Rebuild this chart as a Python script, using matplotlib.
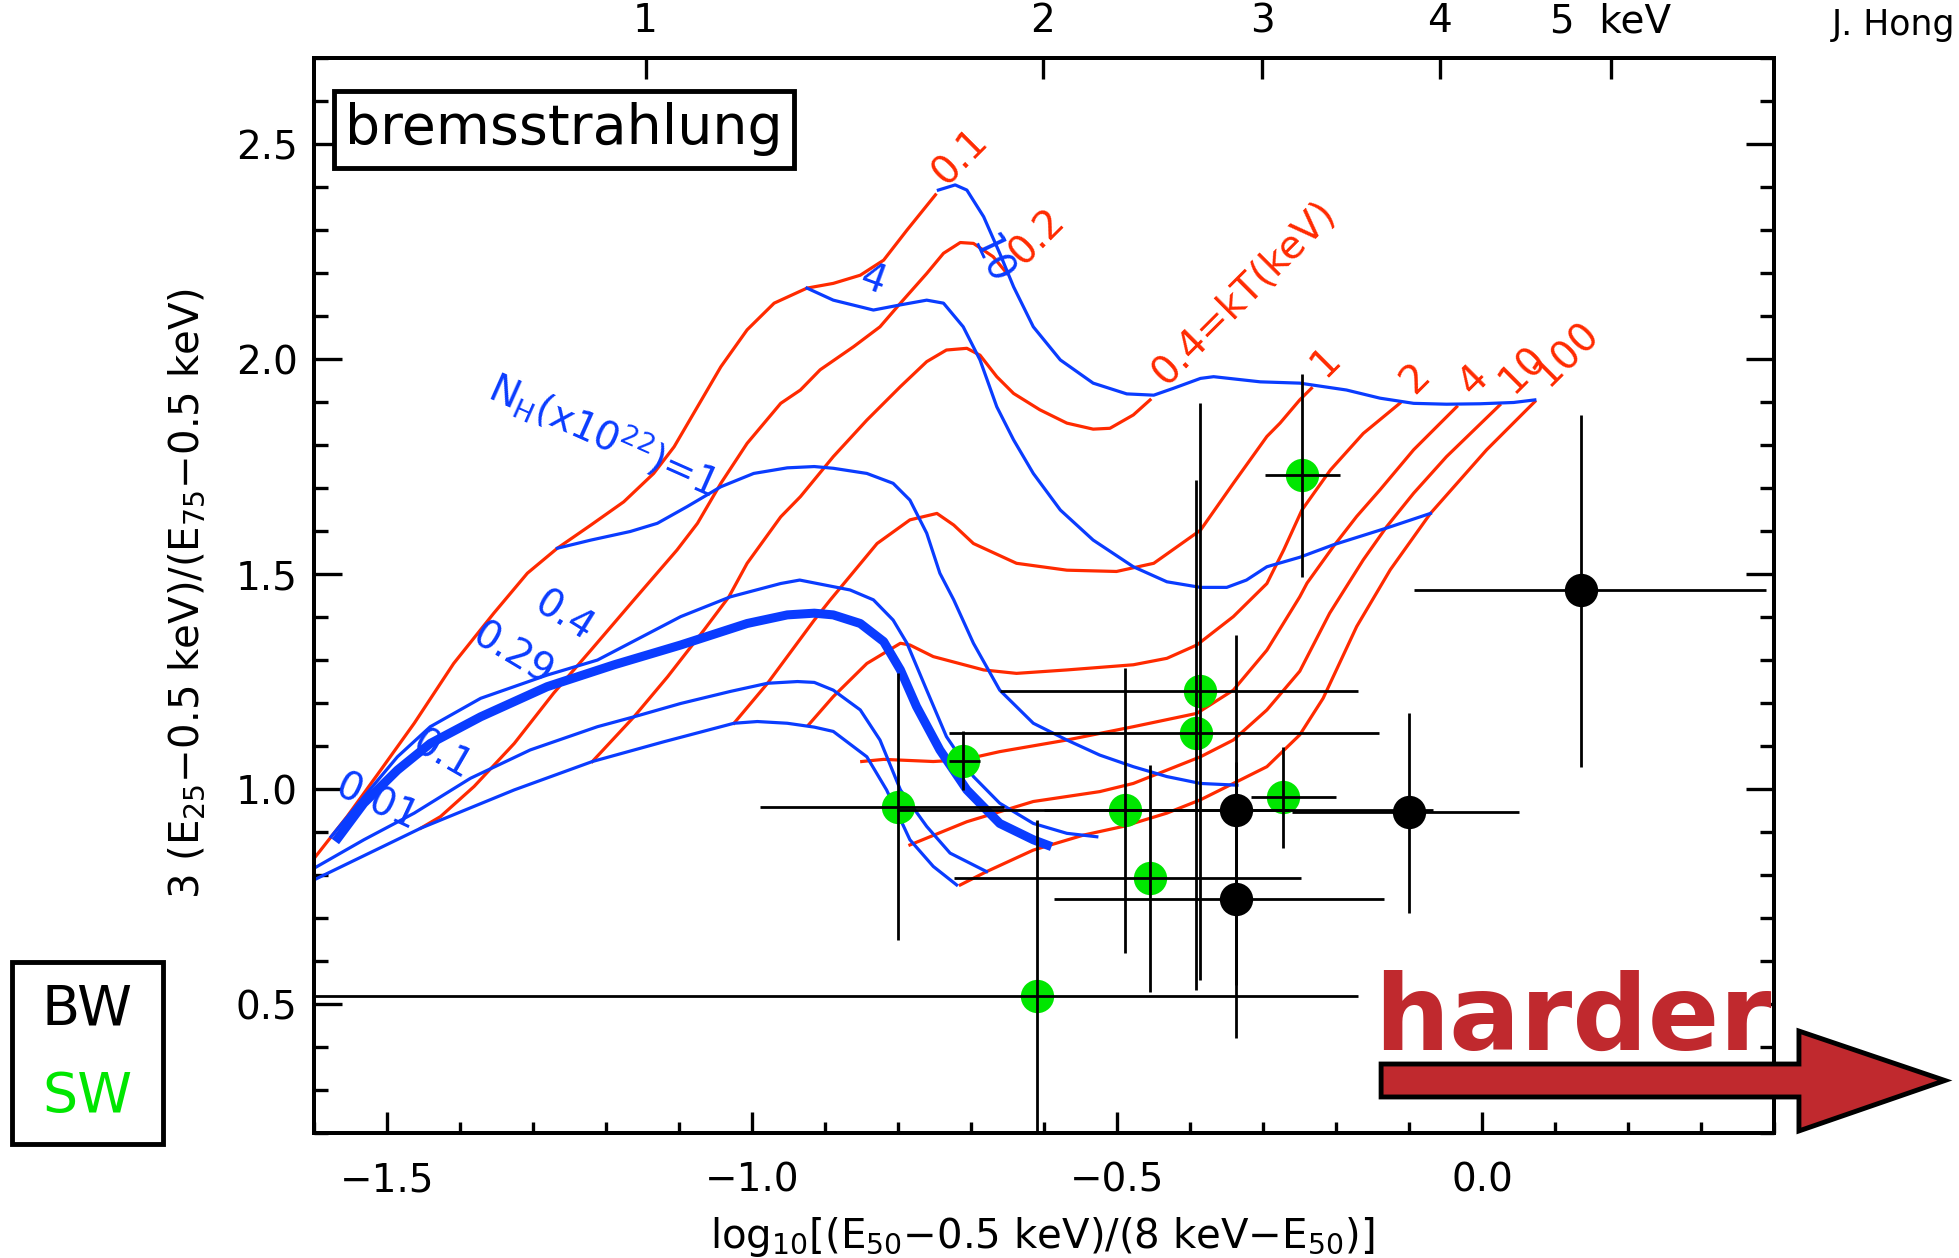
import numpy as np
import matplotlib.pyplot as plt
from matplotlib.patches import Polygon, Rectangle
from matplotlib.ticker import MultipleLocator, FuncFormatter, NullLocator

plt.rcParams['font.family'] = ['DejaVu Sans']
plt.rcParams['mathtext.default'] = 'regular'

RED = '#ff2a00'
BLUE = '#0a3cff'
GREEN = '#00e600'
DARKRED = '#c0292e'

# constant kT tracks (red)
kt01_x = [-1.600, -1.555, -1.509, -1.463, -1.409, -1.354, -1.308, -1.267, -1.221, -1.176, -1.135,
          -1.107, -1.075, -1.043, -1.007, -0.970, -0.925, -0.889, -0.852, -0.820, -0.788, -0.749]
kt01_y = [0.840, 0.937, 1.045, 1.154, 1.293, 1.410, 1.503, 1.561, 1.615, 1.669, 1.735,
          1.797, 1.890, 1.983, 2.069, 2.131, 2.166, 2.177, 2.196, 2.231, 2.301, 2.383]
kt02_x = [-1.454, -1.427, -1.381, -1.326, -1.272, -1.221, -1.162, -1.103, -1.075, -1.043, -1.007,
          -0.961, -0.934, -0.907, -0.861, -0.825, -0.797, -0.761, -0.738, -0.715, -0.697, -0.670, -0.651]
kt02_y = [0.910, 0.937, 1.007, 1.107, 1.224, 1.324, 1.441, 1.557, 1.619, 1.712, 1.805,
          1.898, 1.929, 1.976, 2.030, 2.076, 2.131, 2.200, 2.247, 2.272, 2.270, 2.239, 2.200]
kt04_x = [-1.219, -1.162, -1.116, -1.066, -1.032, -1.007, -0.961, -0.934, -0.889, -0.843, -0.797, -0.761,
          -0.734, -0.706, -0.688, -0.665, -0.642, -0.606, -0.569, -0.533, -0.510, -0.478, -0.455]
kt04_y = [1.065, 1.169, 1.262, 1.371, 1.448, 1.526, 1.634, 1.681, 1.774, 1.859, 1.937, 1.995,
          2.022, 2.026, 2.010, 1.960, 1.921, 1.883, 1.852, 1.838, 1.840, 1.871, 1.906]
kt1_x = [-1.025, -0.979, -0.915, -0.893, -0.829, -0.784, -0.747, -0.724, -0.697, -0.638, -0.569,
         -0.501, -0.450, -0.386, -0.341, -0.295, -0.277, -0.250, -0.234]
kt1_y = [1.154, 1.247, 1.394, 1.441, 1.572, 1.627, 1.642, 1.615, 1.572, 1.526, 1.510,
         1.507, 1.526, 1.603, 1.712, 1.821, 1.852, 1.906, 1.933]
kt2_x = [-0.923, -0.889, -0.843, -0.797, -0.784, -0.752, -0.683, -0.638, -0.569, -0.478, -0.432,
         -0.391, -0.341, -0.295, -0.272, -0.247, -0.208, -0.163, -0.113]
kt2_y = [1.150, 1.216, 1.293, 1.340, 1.336, 1.309, 1.278, 1.270, 1.278, 1.290, 1.305,
         1.336, 1.402, 1.479, 1.557, 1.650, 1.743, 1.828, 1.898]
kt4_x = [-0.850, -0.820, -0.752, -0.711, -0.661, -0.569, -0.478, -0.391, -0.341, -0.295, -0.250,
         -0.240, -0.204, -0.172, -0.140, -0.094, -0.035]
kt4_y = [1.065, 1.070, 1.065, 1.069, 1.088, 1.115, 1.146, 1.177, 1.231, 1.324, 1.448,
         1.480, 1.565, 1.635, 1.697, 1.790, 1.890]
kt10_x = [-0.784, -0.706, -0.615, -0.524, -0.478, -0.432, -0.386, -0.341, -0.295, -0.250,
          -0.209, -0.163, -0.131, -0.094, -0.049, 0.024]
kt10_y = [0.871, 0.925, 0.972, 0.995, 1.014, 1.045, 1.076, 1.115, 1.185, 1.275,
          1.410, 1.534, 1.611, 1.689, 1.774, 1.894]
kt100_x = [-0.715, -0.679, -0.615, -0.546, -0.492, -0.432, -0.386, -0.341, -0.295, -0.250,
           -0.218, -0.172, -0.126, -0.071, 0.006, 0.072]
kt100_y = [0.778, 0.809, 0.859, 0.894, 0.914, 0.945, 0.976, 1.014, 1.053, 1.127,
           1.212, 1.379, 1.511, 1.642, 1.790, 1.902]

# constant NH tracks (blue)
nh001_x = [-1.600, -1.454, -1.326, -1.219, -1.121, -1.025, -0.993, -0.952, -0.915, -0.889,
           -0.843, -0.816, -0.784, -0.752, -0.720]
nh001_y = [0.790, 0.910, 0.999, 1.065, 1.111, 1.154, 1.158, 1.154, 1.145, 1.135,
           1.076, 0.999, 0.883, 0.821, 0.778]
nh01_x = [-1.600, -1.532, -1.463, -1.386, -1.304, -1.212, -1.162, -1.098, -1.030, -0.979,
          -0.938, -0.915, -0.889, -0.852, -0.825, -0.797, -0.761, -0.729, -0.679]
nh01_y = [0.817, 0.883, 0.945, 1.026, 1.092, 1.146, 1.169, 1.200, 1.228, 1.247,
          1.251, 1.249, 1.231, 1.185, 1.115, 0.999, 0.914, 0.852, 0.809]
nh029_x = [-1.571, -1.532, -1.486, -1.441, -1.372, -1.281, -1.189, -1.098, -1.007, -0.952, -0.915,
           -0.889, -0.852, -0.820, -0.797, -0.775, -0.743, -0.706, -0.661, -0.615, -0.590]
nh029_y = [0.879, 0.968, 1.045, 1.107, 1.169, 1.239, 1.290, 1.336, 1.386, 1.406, 1.410,
           1.406, 1.386, 1.344, 1.278, 1.193, 1.092, 0.999, 0.921, 0.883, 0.867]
nh04_x = [-1.577, -1.532, -1.486, -1.441, -1.372, -1.281, -1.212, -1.098, -1.030, -0.961, -0.935,
          -0.866, -0.834, -0.807, -0.788, -0.761, -0.734, -0.697, -0.661, -0.615, -0.569, -0.528]
nh04_y = [0.890, 0.983, 1.076, 1.146, 1.212, 1.266, 1.301, 1.402, 1.448, 1.479, 1.487,
          1.464, 1.441, 1.394, 1.340, 1.231, 1.123, 1.030, 0.968, 0.921, 0.898, 0.890]
nh1_x = [-1.267, -1.221, -1.167, -1.130, -1.089, -1.043, -0.998, -0.952, -0.915, -0.889, -0.843,
         -0.807, -0.784, -0.761, -0.743, -0.724, -0.697, -0.661, -0.615, -0.569, -0.524, -0.478,
         -0.432, -0.386, -0.336]
nh1_y = [1.561, 1.580, 1.600, 1.619, 1.658, 1.704, 1.735, 1.748, 1.751, 1.747, 1.735,
         1.712, 1.673, 1.596, 1.503, 1.441, 1.340, 1.231, 1.154, 1.115, 1.080, 1.053,
         1.030, 1.014, 1.010]
nh4_x = [-0.925, -0.889, -0.834, -0.797, -0.761, -0.738, -0.711, -0.688, -0.665, -0.642, -0.615,
         -0.578, -0.533, -0.478, -0.432, -0.386, -0.350, -0.323, -0.295, -0.250, -0.204, -0.131, -0.071]
nh4_y = [2.166, 2.138, 2.115, 2.127, 2.138, 2.131, 2.076, 1.999, 1.890, 1.813, 1.735,
         1.650, 1.580, 1.518, 1.483, 1.470, 1.470, 1.487, 1.518, 1.540, 1.569, 1.608, 1.642]
nh10_x = [-0.745, -0.722, -0.706, -0.683, -0.661, -0.642, -0.615, -0.578, -0.533, -0.487, -0.450,
          -0.423, -0.386, -0.368, -0.304, -0.250, -0.186, -0.140, -0.094, -0.049, -0.003, 0.043, 0.072]
nh10_y = [2.394, 2.406, 2.394, 2.332, 2.247, 2.169, 2.076, 1.999, 1.945, 1.920, 1.917,
          1.933, 1.956, 1.960, 1.948, 1.945, 1.929, 1.910, 1.898, 1.896, 1.897, 1.900, 1.906]

# sources: SW (green) and BW (black) with error bar ends
sw_x = [-0.247, -0.387, -0.392, -0.711, -0.800, -0.489, -0.273, -0.455, -0.610]
sw_y = [1.731, 1.228, 1.131, 1.067, 0.960, 0.952, 0.982, 0.794, 0.520]
sw_xlo = [-0.298, -0.661, -0.731, -0.731, -0.989, -0.802, -0.317, -0.724, -1.650]
sw_xhi = [-0.195, -0.170, -0.141, -0.688, -0.655, -0.265, -0.201, -0.248, -0.170]
sw_ylo = [1.495, 0.557, 0.534, 0.999, 0.650, 0.619, 0.864, 0.528, 0.100]
sw_yhi = [1.967, 1.898, 1.720, 1.135, 1.270, 1.282, 1.098, 1.058, 0.929]

bw_x = [0.135, -0.338, -0.101, -0.338]
bw_y = [1.465, 0.953, 0.948, 0.745]
bw_xlo = [-0.094, -0.600, -0.261, -0.587]
bw_xhi = [0.389, -0.067, 0.051, -0.134]
bw_ylo = [1.053, 0.546, 0.712, 0.423]
bw_yhi = [1.872, 1.360, 1.179, 1.065]

top_energy = [1, 2, 3, 4, 5]
top_labels = ['1', '2', '3', '4', '5  keV']

red_tracks = [(kt01_x, kt01_y), (kt02_x, kt02_y), (kt04_x, kt04_y), (kt1_x, kt1_y),
              (kt2_x, kt2_y), (kt4_x, kt4_y), (kt10_x, kt10_y), (kt100_x, kt100_y)]
blue_tracks = [(nh001_x, nh001_y), (nh01_x, nh01_y), (nh04_x, nh04_y),
               (nh1_x, nh1_y), (nh4_x, nh4_y), (nh10_x, nh10_y)]

# curve labels: text, x, y, rotation
red_notes = [('0.1', -0.715, 2.472, 45), ('0.2', -0.610, 2.286, 45),
             ('0.4=kT(keV)', -0.327, 2.154, 45), ('1', -0.215, 1.995, 45),
             ('2', -0.092, 1.956, 45), ('4', -0.012, 1.952, 45),
             ('10', 0.056, 1.976, 45), ('100', 0.116, 2.014, 45)]
blue_notes = [('10', -0.674, 2.231, -65), ('4', -0.836, 2.185, -20),
              ('N$_H$(x10$^{22}$)=1', -1.203, 1.828, -24), ('0.4', -1.258, 1.402, -32),
              ('0.29', -1.328, 1.313, -31), ('0.1', -1.425, 1.080, -30),
              ('0.01', -1.514, 0.968, -25)]

fig = plt.figure(figsize=(19.59, 12.58), dpi=100)
ax = fig.add_axes([0.1604, 0.0990, 0.7453, 0.8545])

for x, y in red_tracks:
    ax.plot(x, y, color=RED, lw=2.3, zorder=2, solid_joinstyle='round')
for x, y in blue_tracks:
    ax.plot(x, y, color=BLUE, lw=2.3, zorder=2, solid_joinstyle='round')
ax.plot(nh029_x, nh029_y, color=BLUE, lw=6.5, zorder=2, solid_capstyle='butt')

for t, x, y, r in red_notes:
    ax.text(x, y, t, color=RED, fontsize=28, rotation=r, ha='center', va='center', zorder=3)
for t, x, y, r in blue_notes:
    ax.text(x, y, t, color=BLUE, fontsize=28, rotation=r, ha='center', va='center', zorder=3)

# data points, bars drawn over the dots
for xs, ys, xlo, xhi, ylo, yhi, c in [(sw_x, sw_y, sw_xlo, sw_xhi, sw_ylo, sw_yhi, GREEN),
                                      (bw_x, bw_y, bw_xlo, bw_xhi, bw_ylo, bw_yhi, 'black')]:
    xs, ys = np.array(xs), np.array(ys)
    ax.plot(xs, ys, 'o', color=c, ms=24, mec='none', zorder=4)
    ax.errorbar(xs, ys, xerr=[xs - np.array(xlo), np.array(xhi) - xs],
                yerr=[ys - np.array(ylo), np.array(yhi) - ys],
                fmt='none', ecolor='black', elinewidth=2.0, capsize=0, zorder=5)

ax.text(-1.258, 2.535, 'bremsstrahlung', fontsize=40, ha='center', va='center', zorder=6,
        bbox=dict(boxstyle='square,pad=0.2', fc='white', ec='black', lw=3.5))

ax.set_xlim(-1.6, 0.4)
ax.set_ylim(0.2, 2.7)
fmt = FuncFormatter(lambda v, p: f'{v:.1f}'.replace('-', '\u2212'))
ax.xaxis.set_major_locator(MultipleLocator(0.5))
ax.xaxis.set_minor_locator(MultipleLocator(0.1))
ax.yaxis.set_major_locator(MultipleLocator(0.5))
ax.yaxis.set_minor_locator(MultipleLocator(0.1))
ax.xaxis.set_major_formatter(fmt)
ax.yaxis.set_major_formatter(fmt)
ax.tick_params(axis='x', which='major', direction='in', length=15, width=2.4,
               top=False, labelsize=28, pad=20)
ax.tick_params(axis='x', which='minor', direction='in', length=8, width=2.4, top=False)
ax.tick_params(axis='y', which='major', direction='in', length=20, width=2.4,
               left=True, right=True, labelsize=28, pad=12)
ax.tick_params(axis='y', which='minor', direction='in', length=10, width=2.4,
               left=True, right=True)
for s in ax.spines.values():
    s.set_linewidth(2.8)

# energy scale on top
ax2 = ax.twiny()
ax2.set_xlim(ax.get_xlim())
e = np.array(top_energy, dtype=float)
ax2.set_xticks(np.log10((e - 0.5) / (8 - e)))
ax2.set_xticklabels(top_labels)
ax2.xaxis.set_minor_locator(NullLocator())
ax2.tick_params(axis='x', which='major', direction='in', length=15, width=2.4,
                labelsize=28, pad=13)
for s in ax2.spines.values():
    s.set_linewidth(2.8)

fig.text(0.532, 0.017, 'log$_{10}$[(E$_{50}$\u22120.5 keV)/(8 keV\u2212E$_{50}$)]',
         fontsize=29, ha='center', va='center')
fig.text(0.0955, 0.5286, '3 (E$_{25}$\u22120.5 keV)/(E$_{75}$\u22120.5 keV)',
         fontsize=29, ha='center', va='center', rotation=90)
fig.text(0.998, 0.980, 'J. Hong', fontsize=25, ha='right', va='center')

# BW / SW key
fig.add_artist(Rectangle((0.006, 0.091), 0.077, 0.144, transform=fig.transFigure,
                         fill=False, ec='black', lw=3.5))
fig.text(0.0446, 0.1975, 'BW', fontsize=40, color='black', ha='center', va='center')
fig.text(0.0446, 0.128, 'SW', fontsize=40, color=GREEN, ha='center', va='center')

# "harder" arrow
fig.text(0.8027, 0.1653, 'harder', fontsize=76, fontweight='heavy', color=DARKRED,
         ha='center', va='baseline', zorder=10)
arrow = [(0.705, 0.1542), (0.9183, 0.1542), (0.9183, 0.1804), (0.9928, 0.1411),
         (0.9183, 0.1010), (0.9183, 0.1280), (0.705, 0.1280)]
fig.add_artist(Polygon(arrow, closed=True, transform=fig.transFigure,
                       fc=DARKRED, ec='black', lw=3.5, zorder=10))

fig.savefig('out.png', dpi=100)
